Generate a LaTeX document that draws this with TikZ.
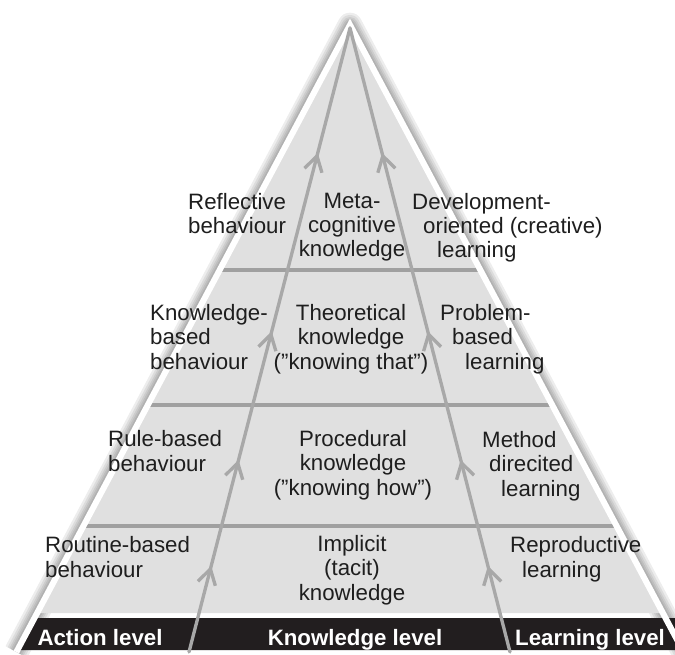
\documentclass[tikz,border=0pt]{standalone}
\usepackage{fontspec}
\setmainfont{Liberation Sans}
\usetikzlibrary{arrows.meta,decorations.markings}
\definecolor{pyrfill}{HTML}{E0E0E0}
\definecolor{pyrline}{HTML}{A8A8A8}
\definecolor{divline}{HTML}{A0A0A0}
\definecolor{bandfill}{HTML}{221E1F}
\definecolor{txt}{HTML}{1E1E1E}
\begin{document}
\begin{tikzpicture}[x=0.03cm,y=-0.03cm,
  lbl/.style={font=\fontsize{19}{20.6}\selectfont, text=txt, inner sep=0pt},
  bandlbl/.style={font=\fontsize{19}{20.4}\selectfont\bfseries, text=white, inner sep=0pt, anchor=base},
  chev/.style={decoration={markings,
      mark=at position 0.138 with {\arrow{Straight Barb[length=0.45cm,width=0.54cm]}},
      mark=at position 0.308 with {\arrow{Straight Barb[length=0.45cm,width=0.54cm]}},
      mark=at position 0.514 with {\arrow{Straight Barb[length=0.45cm,width=0.54cm]}},
      mark=at position 0.800 with {\arrow{Straight Barb[length=0.45cm,width=0.54cm]}}},
    postaction={decorate}},
  flow/.style={color=pyrline, line width=0.1cm, line cap=round, chev},
  divider/.style={draw=divline, line width=0.12cm},
  rim/.style={draw=white, line width=0.18cm, line join=miter},
]
\useasboundingbox (0,0) rectangle (675,655);

% key points of the pyramid
\coordinate (apex) at (350,25);
\coordinate (edgeL) at (16.4,652);
\coordinate (edgeR) at (683.6,652);
\coordinate (greyL) at (37.2,613);
\coordinate (greyR) at (662.8,613);
\coordinate (bandTL) at (34.5,618);
\coordinate (bandTR) at (676,618);
\coordinate (bandBR) at (676,650);
\coordinate (bandBL) at (17.5,650);
\coordinate (top) at (350,28);
\coordinate (footL) at (189,652);
\coordinate (footR) at (510,652);

% soft shadow along the two sides
\foreach \w in {0.28cm,0.38cm,0.48cm,0.60cm,0.74cm}
  \draw[black, opacity=0.07, line width=\w, line join=round] (edgeL) -- (apex) -- (edgeR);

% body of the pyramid
\fill[pyrfill] (apex) -- (greyL) -- (greyR) -- cycle;

% level dividers
\begin{scope}
  \clip (apex) -- (greyL) -- (greyR) -- cycle;
  \draw[divider] (0,270) -- (675,270);
  \draw[divider] (0,405) -- (675,405);
  \draw[divider] (0,526) -- (675,526);
\end{scope}

% dark base band
\fill[bandfill] (bandTL) -- (bandTR) -- (bandBR) -- (bandBL) -- cycle;

% white rim
\draw[rim] (edgeL) -- (apex) -- (edgeR);

% rising paths with chevrons
\draw[flow] (footL) -- (top);
\draw[flow] (footR) -- (top);

% level texts (anchored at the baseline of the last line)
\node[lbl, align=left, anchor=base west] (reflective) at (188,234) {Reflective\\behaviour};
\node[lbl, align=center, anchor=base] (meta) at (352,257) {Meta-\\cognitive\\knowledge};
\node[lbl, align=left, anchor=base west] (develop) at (412,258) {Development-\\\hspace*{0.33cm}oriented (creative)\\\hspace*{0.75cm}learning};

\node[lbl, align=left, anchor=base west] (kbased) at (150,369) {Knowledge-\\based\\behaviour};
\node[lbl, align=center, anchor=base] (theory) at (351,369) {Theoretical\\knowledge\\(”knowing that”)};
\node[lbl, align=left, anchor=base west] (problem) at (440,369) {Problem-\\\hspace*{0.36cm}based\\\hspace*{0.75cm}learning};

\node[lbl, align=left, anchor=base west] (rule) at (108,471) {Rule-based\\behaviour};
\node[lbl, align=center, anchor=base] (proc) at (353,495) {Procedural\\knowledge\\(”knowing how”)};
\node[lbl, align=left, anchor=base west] (method) at (482,496) {Method\\\hspace*{0.21cm}direcited\\\hspace*{0.57cm}learning};

\node[lbl, align=left, anchor=base west] (routine) at (45,577) {Routine-based\\behaviour};
\node[lbl, align=center, anchor=base] (implicit) at (352,600) {Implicit\\(tacit)\\knowledge};
\node[lbl, align=left, anchor=base west] (repro) at (510,577) {Reproductive\\\hspace*{0.36cm}learning};

% band labels
\node[bandlbl] (action) at (100,645) {Action level};
\node[bandlbl] (knowledge) at (355,645) {Knowledge level};
\node[bandlbl] (learning) at (590,645) {Learning level};
\end{tikzpicture}
\end{document}
